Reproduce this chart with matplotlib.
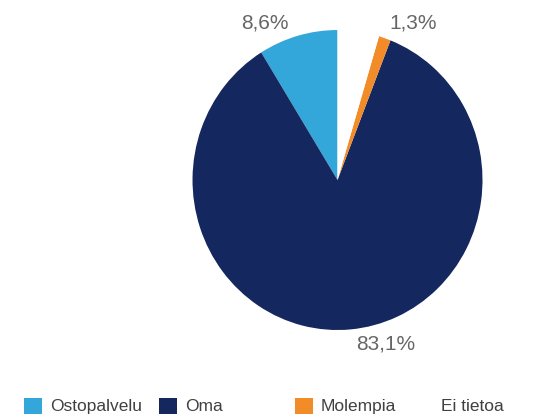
import matplotlib
matplotlib.use("Agg")
import matplotlib.pyplot as plt
from matplotlib.patches import Patch

plt.rcParams["font.family"] = ["Liberation Sans", "DejaVu Sans"]

# data
categories = ["Ostopalvelu", "Oma", "Molempia", "Ei tietoa"]
shares = [8.6, 83.1, 1.3, 4.5]  # Ei tietoa has no label, estimated from the slice
value_labels = ["8,6%", "83,1%", "1,3%", ""]
colors = ["#33a7da", "#14275e", "#f28c28", "#ffffff"]

# where the percentage labels sit (axes data units, pie radius = 1)
label_pos = [(-0.50, 1.05), (0.33, -1.09), (0.52, 1.05), (0.0, 0.0)]

fig = plt.figure(figsize=(5.51, 4.17), dpi=100)
ax = fig.add_axes([0.3494, 0.2086, 0.5263, 0.7194])

wedges, _ = ax.pie(shares, colors=colors, startangle=90, counterclock=True,
                   wedgeprops=dict(linewidth=0))
ax.set_aspect("auto")
ax.set_xlim(-1, 1)
ax.set_ylim(-1, 1)
ax.axis("off")

for txt, (x, y) in zip(value_labels, label_pos):
    if txt:
        ax.text(x, y, txt, ha="center", va="center", fontsize=15, color="#666666",
                clip_on=False)

# legend: one entry per slot, spaced like the original
legend_x = [24, 159, 295, 415]
for cat, col, x in zip(categories, colors, legend_x):
    h = Patch(facecolor=col, edgecolor="none")
    fig.legend([h], [cat], loc="center left", bbox_to_anchor=(x / 551, 1 - 406 / 417),
               frameon=False, fontsize=12.5, handlelength=1.05, handleheight=1.05,
               handletextpad=0.45, borderpad=0, borderaxespad=0, labelcolor="#404040")

fig.savefig("out.png", dpi=100)
